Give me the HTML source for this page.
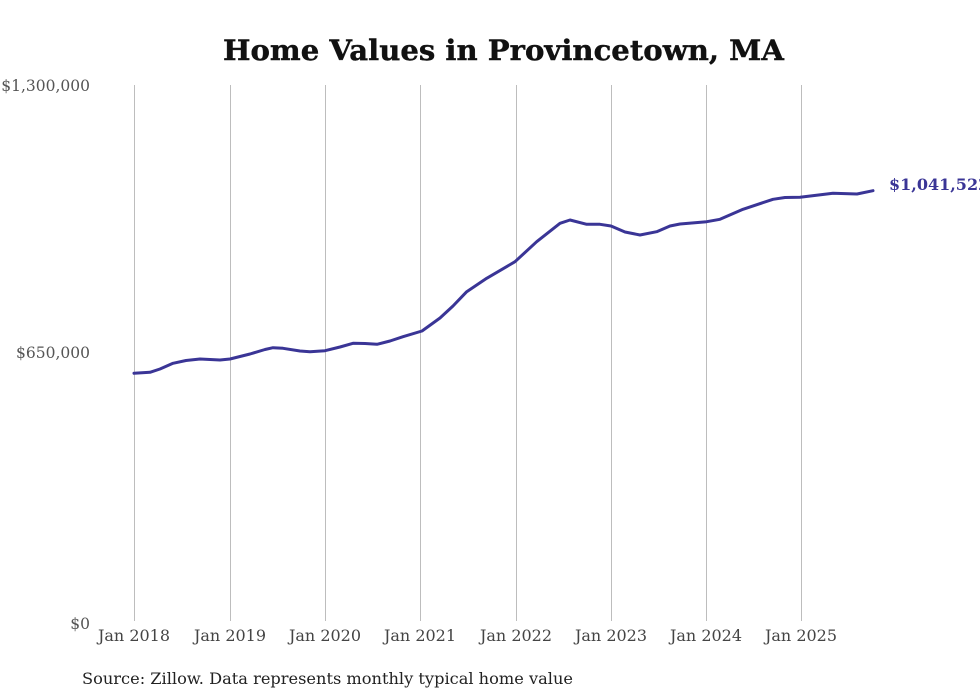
<!DOCTYPE html>
<html><head><meta charset="utf-8"><style>
html,body{margin:0;padding:0;background:#fff;}
svg{display:block;}
</style></head><body>
<svg width="980" height="699" viewBox="0 0 980 699" xmlns="http://www.w3.org/2000/svg">
<rect width="980" height="699" fill="#fff"/>
<text x="503.5" y="60" text-anchor="middle" font-family="'DejaVu Serif', 'Liberation Serif', serif" font-weight="900" font-size="28" fill="#111" textLength="561" lengthAdjust="spacingAndGlyphs" stroke="#111" stroke-width="0.4">Home Values in Provincetown, MA</text>
<g stroke="#bdbdbd" stroke-width="1">
<line x1="134.5" y1="85" x2="134.5" y2="621"/>
<line x1="230.5" y1="85" x2="230.5" y2="621"/>
<line x1="325.5" y1="85" x2="325.5" y2="621"/>
<line x1="420.5" y1="85" x2="420.5" y2="621"/>
<line x1="516.5" y1="85" x2="516.5" y2="621"/>
<line x1="611.5" y1="85" x2="611.5" y2="621"/>
<line x1="706.5" y1="85" x2="706.5" y2="621"/>
<line x1="801.5" y1="85" x2="801.5" y2="621"/>
</g>
<g font-family="'DejaVu Serif', 'Liberation Serif', serif" font-size="15.5" fill="#555" text-anchor="end">
<text x="90" y="91">$1,300,000</text>
<text x="90" y="358">$650,000</text>
<text x="90" y="629">$0</text>
</g>
<g font-family="'DejaVu Serif', 'Liberation Serif', serif" font-size="16" fill="#444" text-anchor="middle">
<text x="134" y="641">Jan 2018</text>
<text x="230" y="641">Jan 2019</text>
<text x="325" y="641">Jan 2020</text>
<text x="420" y="641">Jan 2021</text>
<text x="516" y="641">Jan 2022</text>
<text x="611" y="641">Jan 2023</text>
<text x="706" y="641">Jan 2024</text>
<text x="801" y="641">Jan 2025</text>
</g>
<polyline fill="none" stroke="#3a3596" stroke-width="3" stroke-linejoin="round" stroke-linecap="round" points="134,373.3 150,372.3 160,369 173,363.3 186,360.5 200,359 220,360 230,359 250,354 265,349.5 273,347.7 283,348.3 300,351 310,351.7 325,350.7 340,347 353,343.3 365,343.5 377,344.3 390,341 403,336.7 422,331 440,318 453,306 466.7,291.7 486.7,278.3 515,261.7 536.7,241.7 560,223.3 570,220 586.7,224.3 600,224.3 611,226 625,232 640,235 656.7,231.7 670,226 680,224 706.7,221.7 720,219.3 743,209.3 773,199.3 785,197.5 800,197.3 833,193.3 857,194 873,190.7"/>
<text x="889" y="190" font-family="'DejaVu Serif', 'Liberation Serif', serif" font-weight="bold" font-size="16" fill="#3a3596">$1,041,522</text>
<text x="82" y="684" font-family="'DejaVu Serif', 'Liberation Serif', serif" font-size="16" fill="#222" textLength="491" lengthAdjust="spacingAndGlyphs">Source: Zillow. Data represents monthly typical home value</text>
</svg>
</body></html>
